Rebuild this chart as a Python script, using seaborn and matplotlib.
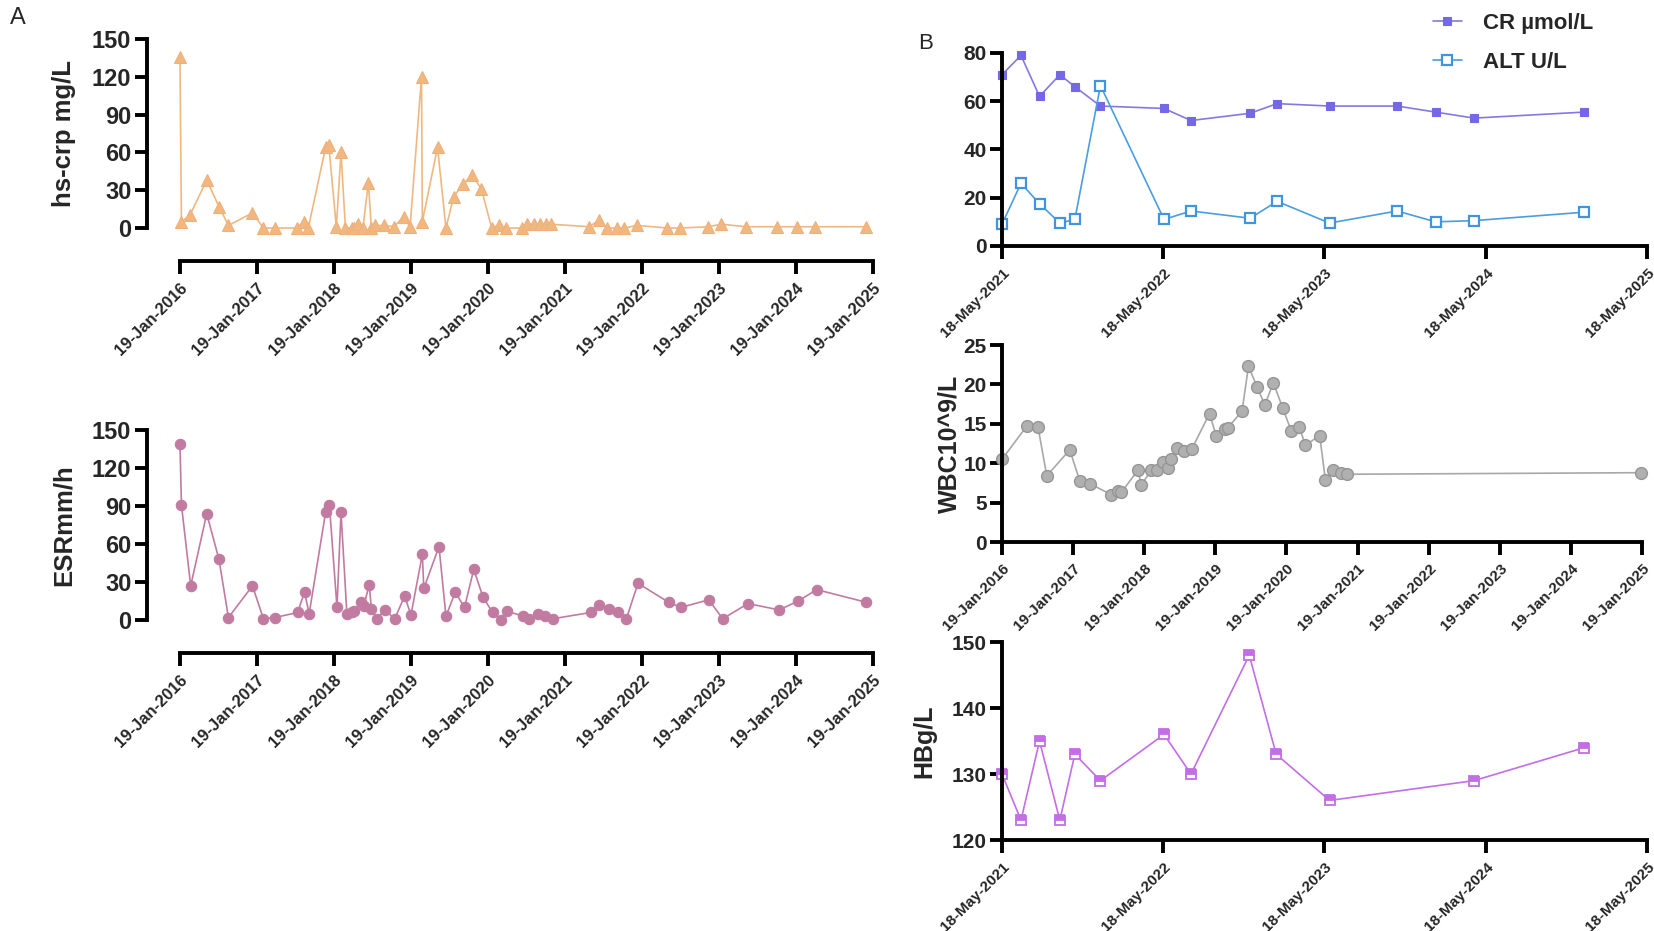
import pandas as pd
import matplotlib
matplotlib.use('Agg')
import matplotlib.pyplot as plt
import matplotlib.dates as mdates
import seaborn as sns

# A: hs-crp
crp_dates = ['2016-01-19', '2016-01-26', '2016-03-06', '2016-05-25', '2016-07-22', '2016-09-05', '2016-12-28',
             '2017-02-18', '2017-04-12', '2017-07-26', '2017-08-28', '2017-09-19', '2017-12-10', '2017-12-25',
             '2018-01-30', '2018-02-21', '2018-03-14', '2018-04-12', '2018-04-26', '2018-05-14', '2018-06-05',
             '2018-07-01', '2018-07-15', '2018-08-02', '2018-09-13', '2018-10-30', '2018-12-16', '2019-01-15',
             '2019-03-10', '2019-03-14', '2019-05-25', '2019-07-04', '2019-08-10', '2019-09-24', '2019-11-06',
             '2019-12-19', '2020-02-06', '2020-03-10', '2020-04-12', '2020-06-27', '2020-07-22', '2020-08-25',
             '2020-09-24', '2020-10-19', '2020-11-14', '2021-05-14', '2021-06-27', '2021-08-06', '2021-09-24',
             '2021-10-26', '2021-12-28', '2022-05-18', '2022-07-19', '2022-11-28', '2023-01-30', '2023-05-28',
             '2023-10-22', '2024-01-23', '2024-04-19', '2024-12-19']
crp_vals = [136, 5, 10, 38, 17, 2, 12, 0, 0, 0,
            5, 0, 64, 66, 0.5, 60, 0, 0, 0, 3,
            0, 36, 0, 2, 2, 1, 9, 1, 120, 5,
            64, 0, 25, 35, 42, 31, 0, 2, 0, 0,
            3, 3, 3, 3, 3, 1, 6, 0, 0, 0,
            2, 0, 0, 1, 3, 1, 1, 1, 1, 1]

# A: ESR
esr_dates = ['2016-01-19', '2016-01-26', '2016-03-10', '2016-05-25', '2016-07-22', '2016-09-05', '2016-12-28',
             '2017-02-18', '2017-04-15', '2017-07-30', '2017-09-01', '2017-09-23', '2017-12-10', '2017-12-28',
             '2018-02-02', '2018-02-21', '2018-03-21', '2018-04-12', '2018-04-26', '2018-05-26', '2018-06-09',
             '2018-07-05', '2018-07-15', '2018-08-10', '2018-09-16', '2018-11-03', '2018-12-20', '2019-01-19',
             '2019-03-14', '2019-03-21', '2019-06-01', '2019-07-04', '2019-08-17', '2019-09-30', '2019-11-13',
             '2019-12-27', '2020-02-10', '2020-03-21', '2020-04-19', '2020-07-05', '2020-08-02', '2020-09-12',
             '2020-10-15', '2020-11-21', '2021-05-22', '2021-07-01', '2021-08-14', '2021-09-27', '2021-11-06',
             '2021-12-31', '2022-05-26', '2022-07-23', '2022-12-02', '2023-02-06', '2023-06-06', '2023-11-01',
             '2024-01-30', '2024-04-27', '2024-12-19']
esr_vals = [139, 91, 27, 84, 48, 2, 27, 1, 2, 6,
            22, 5, 85, 91, 10, 85, 5, 6, 7, 14,
            11, 28, 9, 1, 8, 1, 19, 4, 52, 25,
            58, 3, 22, 10, 40, 18, 6, 0, 7, 3,
            1, 5, 3, 1, 6, 12, 9, 6, 1, 29,
            14, 10, 16, 1, 13, 8, 15, 24, 14]

# B: WBC
wbc_dates = ['2016-01-19', '2016-05-25', '2016-07-22', '2016-09-05', '2017-01-01', '2017-02-21', '2017-04-15',
             '2017-08-03', '2017-09-05', '2017-09-23', '2017-12-17', '2018-01-04', '2018-02-24', '2018-03-24',
             '2018-04-23', '2018-05-22', '2018-06-05', '2018-07-05', '2018-08-10', '2018-09-20', '2018-12-20',
             '2019-01-23', '2019-03-10', '2019-03-24', '2019-06-05', '2019-07-08', '2019-08-21', '2019-09-30',
             '2019-11-13', '2019-12-31', '2020-02-13', '2020-03-24', '2020-04-26', '2020-07-08', '2020-08-06',
             '2020-09-16', '2020-10-26', '2020-11-24', '2025-01-11']
wbc_vals = [10.5, 14.7, 14.6, 8.4, 11.7, 7.8, 7.4, 6.0, 6.5, 6.3,
            9.1, 7.2, 9.2, 9.2, 10.1, 9.4, 10.6, 11.9, 11.5, 11.8,
            16.3, 13.5, 14.3, 14.5, 16.6, 22.3, 19.7, 17.4, 20.2, 17.0,
            14.1, 14.6, 12.3, 13.5, 7.9, 9.1, 8.8, 8.6, 8.8]

# B: CR / ALT
liver_dates = ['2021-05-18', '2021-06-30', '2021-08-11', '2021-09-26', '2021-10-30', '2021-12-27', '2022-05-20',
               '2022-07-20', '2022-12-01', '2023-01-31', '2023-05-30', '2023-10-30', '2024-01-25', '2024-04-21',
               '2024-12-27']
cr_vals = [71, 79, 62, 71, 66, 58, 57, 52, 55, 59, 58, 58, 55.5, 53, 55.5]
alt_vals = [9, 26, 17.5, 9.5, 11, 66.5, 11, 14.5, 11.5, 18.5, 9.5, 14.5, 10, 10.5, 14]

# B: HB
hb_dates = ['2021-05-18', '2021-06-30', '2021-08-11', '2021-09-26', '2021-10-30', '2021-12-27', '2022-05-20',
            '2022-07-20', '2022-11-29', '2023-01-29', '2023-05-30', '2024-04-21', '2024-12-27']
hb_vals = [130, 123, 135, 123, 133, 129, 136, 130, 148, 133, 126, 129, 134]

ticks_a = ['2016-01-19', '2017-01-19', '2018-01-19', '2019-01-19', '2020-01-19',
           '2021-01-19', '2022-01-19', '2023-01-19', '2024-01-19', '2025-01-19']
ticks_b = ['2021-05-18', '2022-05-18', '2023-05-18', '2024-05-18', '2025-05-18']

sns.set_style('ticks')
plt.rcParams['font.family'] = ['Liberation Sans', 'DejaVu Sans']

fig = plt.figure(figsize=(16.54, 9.31), dpi=100)

ax_crp = fig.add_axes([0.1088, 0.7551, 0.419, 0.2030])
ax_esr = fig.add_axes([0.1088, 0.3340, 0.419, 0.2041])
ax_cr = fig.add_axes([0.6058, 0.7358, 0.390, 0.2073])
ax_wbc = fig.add_axes([0.6058, 0.4178, 0.387, 0.2116])
ax_hb = fig.add_axes([0.6058, 0.0977, 0.390, 0.2127])


def style_axis(ax, ticks, yticks, ylim, num_size, date_size, offset):
    t = pd.to_datetime(ticks)
    ax.set_xlim(t[0], t[-1])
    ax.set_xticks(t)
    ax.xaxis.set_major_formatter(mdates.DateFormatter('%d-%b-%Y'))
    ax.set_ylim(*ylim)
    ax.set_yticks(yticks)
    sns.despine(ax=ax, offset=offset)
    for s in ['left', 'bottom']:
        ax.spines[s].set_linewidth(2.8)
        ax.spines[s].set_color('black')
    ax.tick_params(axis='both', length=9, width=2.8, color='black')
    ax.tick_params(axis='y', labelsize=num_size, pad=2)
    ax.tick_params(axis='x', labelsize=date_size, pad=5, labelrotation=45)
    plt.setp(ax.get_xticklabels(), ha='right', va='top', rotation_mode='anchor', fontweight='bold')
    plt.setp(ax.get_yticklabels(), fontweight='bold')
    ax.set_xlabel('')
    ax.grid(False)


# Panel A
sns.lineplot(x=pd.to_datetime(crp_dates), y=crp_vals, ax=ax_crp, color='#F0B880', lw=1.2,
             marker='^', markersize=8, markeredgecolor='#F0B07A', markeredgewidth=0.8, clip_on=False)
style_axis(ax_crp, ticks_a, [0, 30, 60, 90, 120, 150], (0, 150), 17, 12, 24)
ax_crp.set_ylabel('hs-crp mg/L', fontsize=18.5, fontweight='bold')
ax_crp.yaxis.set_label_coords(-0.15, 0.5)

sns.lineplot(x=pd.to_datetime(esr_dates), y=esr_vals, ax=ax_esr, color='#C27BA0', lw=1.2,
             marker='o', markersize=7.5, markeredgecolor='#C27BA0', markeredgewidth=0.8, clip_on=False)
style_axis(ax_esr, ticks_a, [0, 30, 60, 90, 120, 150], (0, 150), 17, 12, 24)
ax_esr.set_ylabel('ESRmm/h', fontsize=18.5, fontweight='bold')
ax_esr.yaxis.set_label_coords(-0.15, 0.5)

# Panel B
sns.lineplot(x=pd.to_datetime(liver_dates), y=cr_vals, ax=ax_cr, color='#8479E0', lw=1.2,
             marker='s', markersize=6, markerfacecolor='#7468E6', markeredgecolor='#7468E6',
             markeredgewidth=0.8, clip_on=False, label='CR µmol/L')
sns.lineplot(x=pd.to_datetime(liver_dates), y=alt_vals, ax=ax_cr, color='#4A9EE0', lw=1.2,
             marker='s', markersize=7, markerfacecolor='white', markeredgecolor='#3F96DE',
             markeredgewidth=1.6, clip_on=False, label='ALT U/L')
style_axis(ax_cr, ticks_b, [0, 20, 40, 60, 80], (0, 80), 15, 11, 0)
ax_cr.set_ylabel('')
ax_cr.legend(loc='upper left', bbox_to_anchor=(1433 / 1654, 1 - 13 / 931), bbox_transform=fig.transFigure,
             frameon=False, borderpad=0, borderaxespad=0, handlelength=1.3, handletextpad=0.95,
             labelspacing=0.8, prop={'size': 16, 'weight': 'bold'})

sns.lineplot(x=pd.to_datetime(wbc_dates), y=wbc_vals, ax=ax_wbc, color='#A8A8A8', lw=1.2,
             marker='o', markersize=8.5, markerfacecolor='#B0B0B0', markeredgecolor='#959595',
             markeredgewidth=1.0, clip_on=False)
style_axis(ax_wbc, ticks_a, [0, 5, 10, 15, 20, 25], (0, 25), 15, 11, 0)
ax_wbc.set_ylabel('WBC10^9/L', fontsize=18, fontweight='bold')
ax_wbc.yaxis.set_label_coords(-0.064, 0.5)

sns.lineplot(x=pd.to_datetime(hb_dates), y=hb_vals, ax=ax_hb, color='#C46EE6', lw=1.2,
             marker='s', markersize=7, fillstyle='top', markerfacecolor='#C46EE6', markerfacecoloralt='white',
             markeredgecolor='#C46EE6', markeredgewidth=1.3, clip_on=False)
style_axis(ax_hb, ticks_b, [120, 130, 140, 150], (120, 150), 15, 11, 0)
ax_hb.set_ylabel('HBg/L', fontsize=18, fontweight='bold')
ax_hb.yaxis.set_label_coords(-0.102, 0.5)

fig.text(0.006, 0.992, 'A', fontsize=17, va='top', ha='left')
fig.text(0.555, 0.965, 'B', fontsize=16, va='top', ha='left')

fig.savefig('out.png', dpi=100)
